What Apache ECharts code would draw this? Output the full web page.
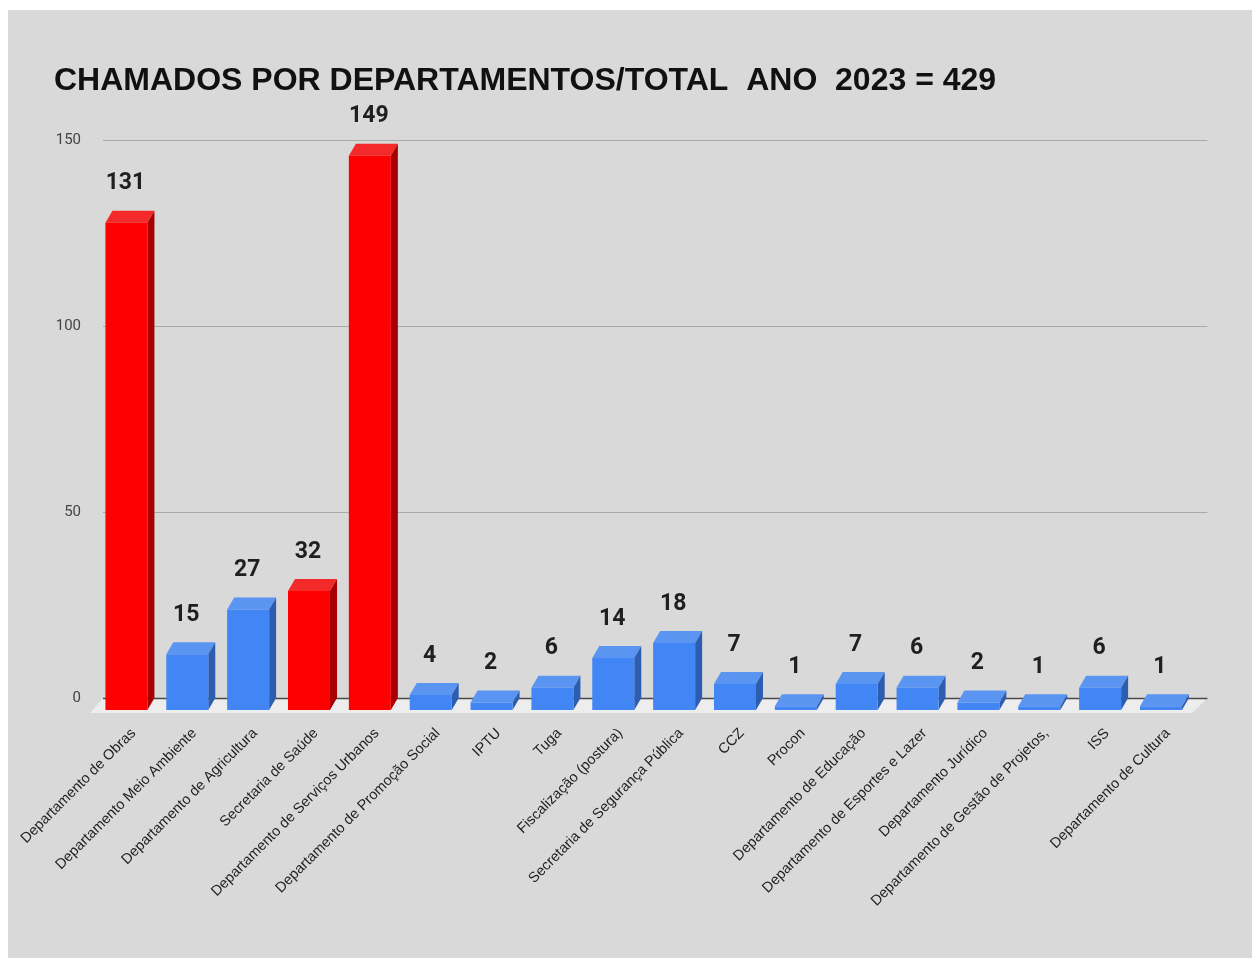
<!DOCTYPE html>
<html>
<head>
<meta charset="utf-8">
<title>Chamados por departamentos 2023</title>
<script src="https://cdn.jsdelivr.net/npm/echarts@6/dist/echarts.min.js"></script>
<style>
  html, body { margin: 0; padding: 0; background: #ffffff; width: 1257px; height: 958px; overflow: hidden; }
  #chart { position: absolute; left: 8px; top: 10px; width: 1244px; height: 948px; background: #d9d9d9; }
</style>
</head>
<body>
<div id="chart"></div>
<script>
// Departments and the number of calls each one received in 2023
const categories = [
  'Departamento de Obras',
  'Departamento Meio Ambiente',
  'Departamento de Agricultura',
  'Secretaria de Saúde',
  'Departamento de Serviços Urbanos',
  'Departamento de Promoção Social',
  'IPTU',
  'Tuga',
  'Fiscalização (postura)',
  'Secretaria de Segurança Pública',
  'CCZ',
  'Procon',
  'Departamento de Educação',
  'Departamento de Esportes e Lazer',
  'Departamento Jurídico',
  'Departamento de Gestão de Projetos,',
  'ISS',
  'Departamento de Cultura'
];
const values = [131, 15, 27, 32, 149, 4, 2, 6, 14, 18, 7, 1, 7, 6, 2, 1, 6, 1];
// 1 = department drawn in red, 0 = drawn in blue
const highlighted = [1, 0, 0, 1, 1, 0, 0, 0, 0, 0, 0, 0, 0, 0, 0, 0, 0, 0];
const yTicks = [0, 50, 100, 150];

const titleText = 'CHAMADOS POR DEPARTAMENTOS/TOTAL  ANO  2023 = 429';

// Face colours of the extruded bars
const palettes = {
  red:  { front: '#ff0000', side: '#a60000', top: '#f42a2a' },
  blue: { front: '#4285f4', side: '#2c5db0', top: '#5b95f2' }
};

// Depth of the pseudo-3D extrusion (px)
const DEPTH_X = 7;
const DEPTH_Y = 12;
const FLOOR_DX = 13;
const FLOOR_DY = 15;

const barData = values.map((v, i) => [i, v]);

function renderBar(params, api) {
  const i = api.value(0);
  const v = api.value(1);
  const top = api.coord([i, v]);
  const base = api.coord([i, 0]);
  const band = api.size([1, 0])[0];
  const w = band * 0.69;
  const half = w / 2;
  const cx = top[0];
  const fx = cx - DEPTH_X;           // centre of the front face
  const fTop = top[1] + DEPTH_Y;
  const fBot = base[1] + DEPTH_Y;
  const pal = highlighted[i] ? palettes.red : palettes.blue;
  return {
    type: 'group',
    children: [
      {
        type: 'polygon',
        shape: { points: [[fx - half, fTop], [fx + half, fTop], [cx + half, top[1]], [cx - half, top[1]]] },
        style: { fill: pal.top }
      },
      {
        type: 'polygon',
        shape: { points: [[fx + half, fTop], [cx + half, top[1]], [cx + half, base[1]], [fx + half, fBot]] },
        style: { fill: pal.side }
      },
      {
        type: 'rect',
        shape: { x: fx - half, y: fTop, width: w, height: fBot - fTop },
        style: { fill: pal.front }
      },
      {
        type: 'text',
        x: fx - 1,
        y: top[1] - 27,
        style: {
          text: String(v),
          fill: '#1f1f1f',
          font: 'bold 23px Roboto, "Liberation Sans", Arial, sans-serif',
          align: 'center',
          verticalAlign: 'middle'
        }
      }
    ]
  };
}

// Floor slab under the bars plus the horizontal gridlines
function renderFloor(params, api) {
  const cs = params.coordSys;
  const left = cs.x;
  const right = cs.x + cs.width + 9;
  const children = [];
  yTicks.forEach(t => {
    const y = Math.round(api.coord([0, t])[1]) + 0.5;
    children.push({
      type: 'line',
      shape: { x1: left, y1: y, x2: right, y2: y },
      style: { stroke: t === 0 ? '#4a4a4a' : '#a9a9a9', lineWidth: t === 0 ? 1.5 : 1.2 }
    });
  });
  const y0 = api.coord([0, 0])[1];
  children.unshift({
    type: 'polygon',
    shape: {
      points: [
        [left, y0], [right, y0],
        [right - FLOOR_DX - 2, y0 + FLOOR_DY], [left - FLOOR_DX, y0 + FLOOR_DY]
      ]
    },
    style: { fill: '#ededed' }
  });
  return { type: 'group', children };
}

const chart = echarts.init(document.getElementById('chart'), null, { renderer: 'canvas' });

chart.setOption({
  backgroundColor: '#d9d9d9',
  animation: false,
  title: {
    text: titleText,
    left: 41,
    top: 50,
    textStyle: {
      fontFamily: '"Liberation Sans", Arial, sans-serif',
      fontWeight: 'bold',
      fontSize: 32,
      color: '#111111'
    }
  },
  grid: {
    left: 95,
    top: 130,
    right: 53.6,
    bottom: 260,
    containLabel: false
  },
  xAxis: {
    type: 'category',
    data: categories,
    boundaryGap: true,
    axisLine: { show: false },
    axisTick: { show: false },
    splitLine: { show: false },
    axisLabel: {
      interval: 0,
      rotate: 45,
      margin: 33,
      fontSize: 14.5,
      color: '#222222',
      fontFamily: '"Liberation Sans", Arial, sans-serif'
    }
  },
  yAxis: {
    type: 'value',
    min: yTicks[0],
    max: yTicks[yTicks.length - 1],
    interval: yTicks[1] - yTicks[0],
    axisLine: { show: false },
    axisTick: { show: false },
    splitLine: { show: false },
    axisLabel: {
      margin: 22,
      fontSize: 15,
      color: '#444444',
      fontFamily: 'Roboto, "Liberation Sans", Arial, sans-serif'
    }
  },
  series: [
    {
      type: 'custom',
      name: 'floor',
      z: 1,
      silent: true,
      data: [[0, 0]],
      encode: { x: 0, y: 1 },
      renderItem: renderFloor
    },
    {
      type: 'custom',
      name: 'Chamados',
      z: 2,
      data: barData,
      encode: { x: 0, y: 1 },
      renderItem: renderBar
    }
  ]
});
</script>
</body>
</html>
